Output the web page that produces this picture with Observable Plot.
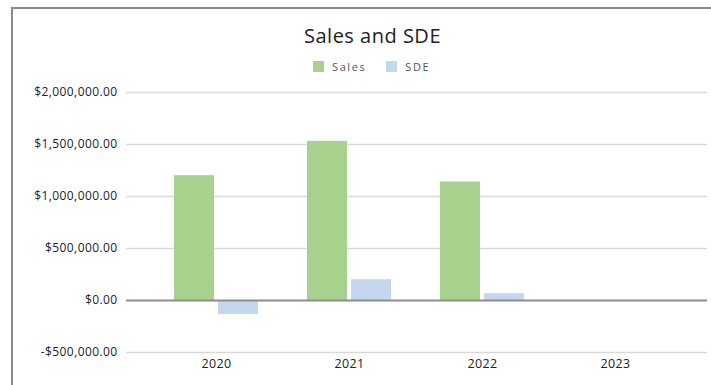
<!DOCTYPE html>
<html>
<head>
<meta charset="utf-8">
<script src="https://cdn.jsdelivr.net/npm/d3@7"></script>
<script src="https://cdn.jsdelivr.net/npm/@observablehq/plot@0.6"></script>
<style>
  html, body { margin: 0; padding: 0; background: #fff; }
  #wrap { position: relative; width: 711px; height: 385px; overflow: hidden; font-family: "Open Sans", sans-serif; }
  #frame { position: absolute; left: 11px; top: 7px; width: 720px; height: 400px; border-left: 2px solid #8a8a8a; border-top: 2px solid #8a8a8a; box-sizing: border-box; }
  #title { position: absolute; left: 0; width: 745px; top: 22px; text-align: center; font-size: 20px; letter-spacing: 0.5px; color: #222; }
  #legend { position: absolute; top: 59px; left: 313px; font-size: 11px; color: #555; letter-spacing: 1.6px; display: flex; align-items: center; }
  .sw { display: inline-block; width: 11px; height: 11px; margin-right: 8px; }
  .item { display: flex; align-items: center; margin-right: 20px; }
  #chart { position: absolute; left: 0; top: 0; }
  #chart svg text { letter-spacing: 0.4px; }
</style>
</head>
<body>
<div id="wrap">
  <div id="frame"></div>
  <div id="chart"></div>
  <div id="title">Sales and SDE</div>
  <div id="legend"></div>
</div>
<script>
const years = ["2020", "2021", "2022", "2023"];
const sales = [1200000, 1530000, 1140000, 0];
const sde = [-135000, 200000, 65000, 0];
const seriesNames = ["Sales", "SDE"];
const seriesColors = ["#a9d18e", "#c3d8ef"];
const yTicks = [-500000, 0, 500000, 1000000, 1500000, 2000000];

const rows = [];
years.forEach((y, i) => {
  rows.push({year: y, series: "Sales", value: sales[i]});
  rows.push({year: y, series: "SDE", value: sde[i]});
});

const fmt = d => (d < 0 ? "-" : "") + "$" + d3.format(",.2f")(Math.abs(d));

const chart = Plot.plot({
  width: 711,
  height: 385,
  marginTop: 92,
  marginBottom: 33,
  marginLeft: 126,
  marginRight: 4,
  style: {fontFamily: "Open Sans, sans-serif", fontSize: "12px", color: "#222", background: "transparent"},
  x: {domain: years, paddingInner: 0.7, paddingOuter: 0.35, insetLeft: 22, insetRight: 24, label: null},
  y: {domain: [-500000, 2000000], label: null},
  color: {domain: seriesNames, range: seriesColors},
  marks: [
    Plot.ruleY(yTicks.filter(d => d !== 0), {stroke: "#d9d9d9", strokeWidth: 1.5}),
    Plot.barY(rows.filter(d => d.series === "Sales"), {x: "year", y: "value", fill: "series", dx: -22}),
    Plot.barY(rows.filter(d => d.series === "SDE"), {x: "year", y: "value", fill: "series", dx: 22}),
    Plot.ruleY([0], {stroke: "#8c8c8c", strokeWidth: 2}),
    Plot.axisY({ticks: yTicks, tickFormat: fmt, tickSize: 0, tickPadding: 9, fontSize: 12}),
    Plot.axisX({tickSize: 0, tickPadding: 7, fontSize: 12.5})
  ]
});
document.getElementById("chart").appendChild(chart);

const legend = document.getElementById("legend");
seriesNames.forEach((name, i) => {
  const item = document.createElement("span");
  item.className = "item";
  const sw = document.createElement("span");
  sw.className = "sw";
  sw.style.background = seriesColors[i];
  item.appendChild(sw);
  item.appendChild(document.createTextNode(name));
  legend.appendChild(item);
});
</script>
</body>
</html>
